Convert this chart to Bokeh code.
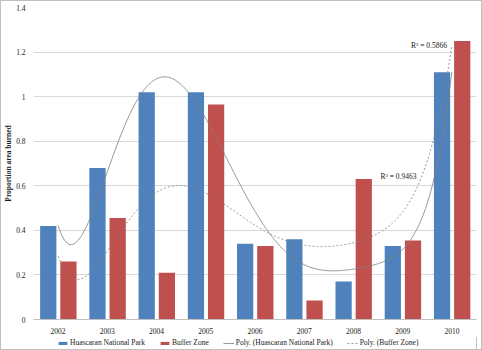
import numpy as np
from bokeh.plotting import figure
from bokeh.layouts import column
from bokeh.models import (Legend, LegendItem, FixedTicker, CustomJSTickFormatter, Label)
from bokeh.embed import file_html
from bokeh.resources import INLINE

years = ["2002", "2003", "2004", "2005", "2006", "2007", "2008", "2009", "2010"]
huascaran = [0.42, 0.68, 1.02, 1.02, 0.34, 0.36, 0.17, 0.33, 1.11]
buffer_zone = [0.26, 0.455, 0.21, 0.965, 0.33, 0.085, 0.63, 0.355, 1.25]
y_ticks = [0, 0.2, 0.4, 0.6, 0.8, 1.0, 1.2, 1.4]
r2_labels = ["R\u00b2 = 0.5866", "R\u00b2 = 0.9463"]
poly_degree = 6

BLUE = "#4f81bd"
RED = "#c0504d"
GRAY = "#7f7f7f"
FONT = "Liberation Serif"
FS = "7.5px"
TXT = "#1a1a1a"

xi = np.arange(len(years))

p = figure(width=480, height=335, output_backend="svg", toolbar_location=None,
           x_range=(-0.5, len(years) - 0.5), y_range=(0, 1.4),
           min_border_left=31, min_border_right=5, min_border_top=6, min_border_bottom=17)
p.outline_line_color = None
p.background_fill_color = "white"
p.border_fill_color = "white"

r_blue = p.vbar(x=xi - 0.2, top=huascaran, width=0.33, fill_color=BLUE, line_color=None)
r_red = p.vbar(x=xi + 0.21, top=buffer_zone, width=0.33, fill_color=RED, line_color=None)

# Excel-style polynomial trendlines fitted to the data
t = np.linspace(0, len(years) - 1, 300)
c_h = np.polyfit(xi, huascaran, poly_degree)
c_b = np.polyfit(xi, buffer_zone, poly_degree)
p.line(t, np.polyval(c_h, t), line_color=GRAY, line_width=0.8)
p.line(t, np.polyval(c_b, t), line_color=GRAY, line_width=0.8, line_dash="2 2")

p.add_layout(Label(x=7.9, y=1.23, text=r2_labels[0], text_align="right", text_baseline="middle",
                   text_font=FONT, text_font_size=FS, text_color=TXT))
p.add_layout(Label(x=7.28, y=0.64, text=r2_labels[1], text_align="right", text_baseline="middle",
                   text_font=FONT, text_font_size=FS, text_color=TXT))

p.xgrid.grid_line_color = None
p.ygrid.grid_line_color = "#d9d9d9"
p.ygrid.grid_line_width = 1

p.xaxis.ticker = FixedTicker(ticks=list(xi))
p.xaxis.major_label_overrides = {int(i): y for i, y in zip(xi, years)}
p.xaxis.axis_line_color = "#bfbfbf"
p.xaxis.major_tick_line_color = None
p.xaxis.minor_tick_line_color = None
p.xaxis.major_label_standoff = 2
p.xaxis.major_label_text_font = FONT
p.xaxis.major_label_text_font_size = FS
p.xaxis.major_label_text_color = TXT

p.yaxis.ticker = FixedTicker(ticks=y_ticks)
p.yaxis.formatter = CustomJSTickFormatter(code="return String(Math.round(tick*10)/10);")
p.yaxis.axis_line_color = None
p.yaxis.major_tick_line_color = None
p.yaxis.minor_tick_line_color = None
p.yaxis.major_label_standoff = 2
p.yaxis.major_label_text_font = FONT
p.yaxis.major_label_text_font_size = FS
p.yaxis.major_label_text_color = TXT
p.yaxis.axis_label = "Proportion area burned"
p.yaxis.axis_label_text_font = FONT
p.yaxis.axis_label_text_font_size = FS
p.yaxis.axis_label_text_font_style = "bold"
p.yaxis.axis_label_text_color = TXT
p.yaxis.axis_label_standoff = 0

# legend strip below the chart
q = figure(width=480, height=13, output_backend="svg", toolbar_location=None,
           x_range=(0, 1), y_range=(0, 1), min_border=0,
           x_axis_location=None, y_axis_location=None)
q.grid.grid_line_color = None
q.outline_line_color = None
q.background_fill_color = "white"
q.border_fill_color = "white"
lb = q.vbar(x=[10], top=[1], width=0.3, fill_color=BLUE, line_color=None)
lr = q.vbar(x=[10], top=[1], width=0.3, fill_color=RED, line_color=None)
lh = q.line(x=[10, 11], y=[0.5, 0.5], line_color=GRAY, line_width=0.8)
lbz = q.line(x=[10, 11], y=[0.5, 0.5], line_color=GRAY, line_width=0.8, line_dash="2 2")

legend = Legend(items=[
    LegendItem(label="Huascaran National Park", renderers=[lb]),
    LegendItem(label="Buffer Zone", renderers=[lr]),
    LegendItem(label="Poly. (Huascaran National Park)", renderers=[lh]),
    LegendItem(label="Poly. (Buffer Zone)", renderers=[lbz]),
], orientation="horizontal", location=(24, 2))
legend.label_text_font = FONT
legend.label_text_font_size = FS
legend.label_text_color = TXT
legend.glyph_width = 11
legend.glyph_height = 4
legend.label_height = 4
legend.label_standoff = 2
legend.spacing = 14
legend.padding = 0
legend.margin = 0
legend.border_line_color = None
legend.background_fill_alpha = 0
q.add_layout(legend, "center")

layout = column(p, q, spacing=0)
layout.styles = {"border": "1px solid #bfbfbf", "background-color": "white"}

open("out.html", "w").write(file_html(layout, INLINE))
